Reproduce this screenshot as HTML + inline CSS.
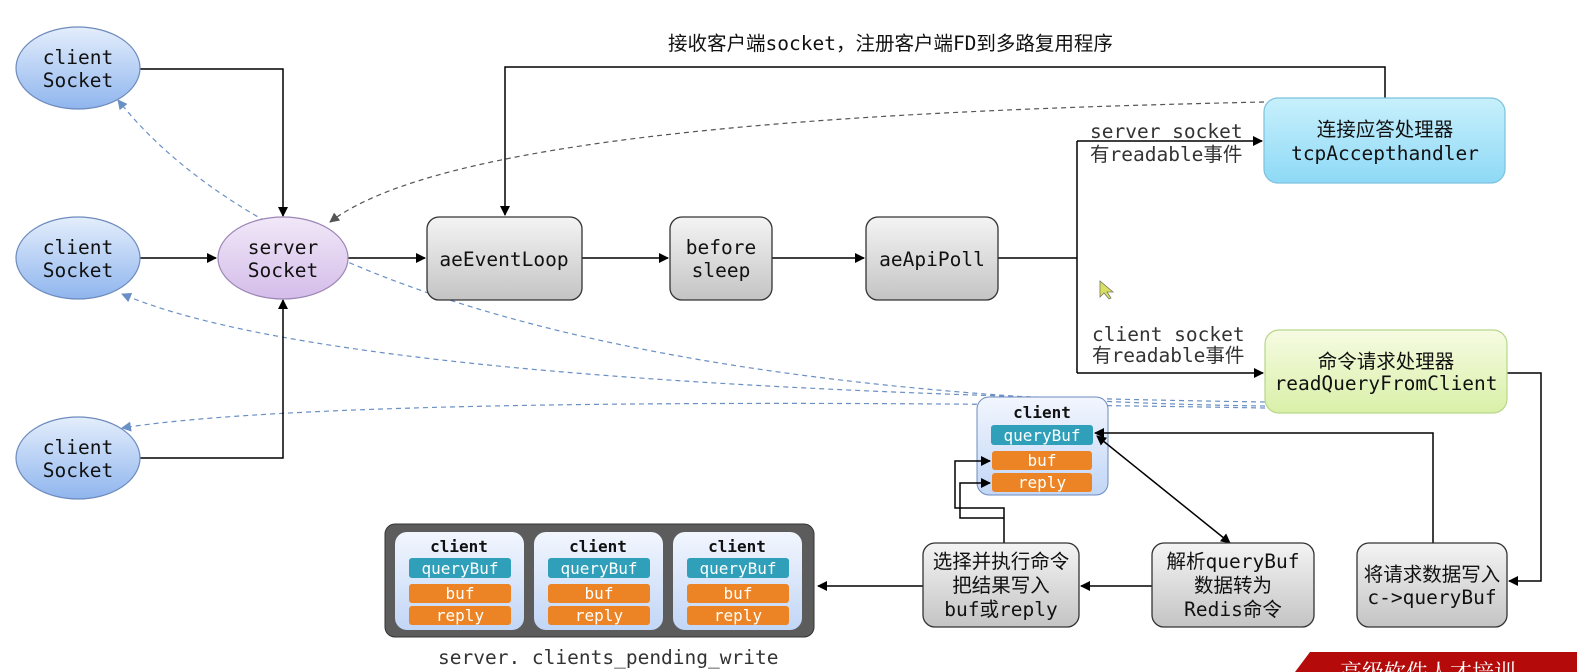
<!DOCTYPE html>
<html><head><meta charset="utf-8"><style>
html,body{margin:0;padding:0;background:#fff;width:1577px;height:672px;overflow:hidden}
text{font-family:"DejaVu Sans Mono","Liberation Mono","Noto Sans CJK SC",monospace;font-size:19.5px;fill:#111}
</style></head><body>
<svg width="1577" height="672" viewBox="0 0 1577 672" xmlns="http://www.w3.org/2000/svg">
<defs>
<marker id="a" markerWidth="10" markerHeight="10" refX="9" refY="5" orient="auto" markerUnits="userSpaceOnUse"><path d="M0,0L10,5L0,10z" fill="#000"/></marker>
<marker id="as" markerWidth="10" markerHeight="10" refX="1" refY="5" orient="auto" markerUnits="userSpaceOnUse"><path d="M10,0L0,5L10,10z" fill="#000"/></marker>
<marker id="b" markerWidth="10" markerHeight="10" refX="9" refY="5" orient="auto" markerUnits="userSpaceOnUse"><path d="M0,0L10,5L0,10z" fill="#6a8fc4"/></marker>
<marker id="d" markerWidth="10" markerHeight="10" refX="9" refY="5" orient="auto" markerUnits="userSpaceOnUse"><path d="M0,0L10,5L0,10z" fill="#555"/></marker>
<linearGradient id="gb" x1="0" y1="0" x2="0" y2="1"><stop offset="0" stop-color="#e4eefc"/><stop offset="1" stop-color="#8fb5ee"/></linearGradient>
<linearGradient id="gp" x1="0" y1="0" x2="0" y2="1"><stop offset="0" stop-color="#f1e8f8"/><stop offset="1" stop-color="#d4bde9"/></linearGradient>
<linearGradient id="gg" x1="0" y1="0" x2="0" y2="1"><stop offset="0" stop-color="#f4f4f4"/><stop offset="1" stop-color="#c4c4c4"/></linearGradient>
<linearGradient id="gc" x1="0" y1="0" x2="0" y2="1"><stop offset="0" stop-color="#c8f0fc"/><stop offset="1" stop-color="#8ed9f6"/></linearGradient>
<linearGradient id="gl" x1="0" y1="0" x2="0" y2="1"><stop offset="0" stop-color="#f6fbe2"/><stop offset="1" stop-color="#d9f0a8"/></linearGradient>
<linearGradient id="gk" x1="0" y1="0" x2="0" y2="1"><stop offset="0" stop-color="#f2f6fe"/><stop offset="1" stop-color="#c2d6f6"/></linearGradient>
</defs>

<!-- dashed connectors -->
<g fill="none" stroke-width="1.2" stroke-dasharray="5,4">
<path d="M1264,102C900,110,450,130,330,222" stroke="#555" marker-end="url(#d)"/>
<path d="M1265,406C800,400,300,330,118,100" stroke="#6a8fc4" marker-end="url(#b)"/>
<path d="M1265,402C800,395,300,370,122,294" stroke="#6a8fc4" marker-end="url(#b)"/>
<path d="M1265,408C800,400,300,400,122,428" stroke="#6a8fc4" marker-end="url(#b)"/>
</g>

<!-- client card -->
<g>
<rect x="977" y="397" width="131" height="98" rx="12" fill="url(#gk)" stroke="#6e8bbd"/>
<text x="1042" y="418" text-anchor="middle" font-weight="bold" style="font-size:16px">client</text>
<rect x="991" y="425" width="102" height="20" rx="3" fill="#2f9fba"/>
<text x="1042" y="441" text-anchor="middle" style="fill:#fff;font-size:16px">queryBuf</text>
<rect x="992" y="451" width="100" height="19" rx="3" fill="#ec8425"/>
<text x="1042" y="466" text-anchor="middle" style="fill:#fff;font-size:16px">buf</text>
<rect x="992" y="473" width="100" height="19" rx="3" fill="#ec8425"/>
<text x="1042" y="488" text-anchor="middle" style="fill:#fff;font-size:16px">reply</text>
</g>

<!-- solid connectors -->
<g fill="none" stroke="#000" stroke-width="1.5">
<path d="M140,69H283V216" marker-end="url(#a)"/>
<path d="M140,258H216" marker-end="url(#a)"/>
<path d="M140,458H283V300" marker-end="url(#a)"/>
<path d="M348,258H425" marker-end="url(#a)"/>
<path d="M582,258H668" marker-end="url(#a)"/>
<path d="M772,258H864" marker-end="url(#a)"/>
<path d="M998,258H1077"/>
<path d="M1077,141V373"/>
<path d="M1077,141H1262" marker-end="url(#a)"/>
<path d="M1077,373H1263" marker-end="url(#a)"/>
<path d="M1385,98V67H505V215" marker-end="url(#a)"/>
<path d="M1507,373H1541V581H1509" marker-end="url(#a)"/>
<path d="M1433,543V433H1095" marker-end="url(#a)"/>
<path d="M1097,436L1230,543" marker-end="url(#a)" marker-start="url(#as)"/>
<path d="M1152,586H1081" marker-end="url(#a)"/>
<path d="M923,586H818" marker-end="url(#a)"/>
<path d="M1004,543V508H955V461H990" marker-end="url(#a)"/>
<path d="M1004,518H960V483H990" marker-end="url(#a)"/>
</g>

<!-- ellipses -->
<g stroke="#6e8bbd" stroke-width="1.2">
<ellipse cx="78" cy="68" rx="62" ry="41" fill="url(#gb)"/>
<ellipse cx="78" cy="258" rx="62" ry="41" fill="url(#gb)"/>
<ellipse cx="78" cy="458" rx="62" ry="41" fill="url(#gb)"/>
<ellipse cx="283" cy="258" rx="65" ry="41" fill="url(#gp)" stroke="#9c86b6"/>
</g>
<g text-anchor="middle">
<text x="78" y="64">client</text><text x="78" y="87">Socket</text>
<text x="78" y="254">client</text><text x="78" y="277">Socket</text>
<text x="78" y="454">client</text><text x="78" y="477">Socket</text>
<text x="283" y="254">server</text><text x="283" y="277">Socket</text>
</g>

<!-- gray boxes -->
<g stroke="#333" stroke-width="1.3" fill="url(#gg)">
<rect x="427" y="217" width="155" height="83" rx="12"/>
<rect x="670" y="217" width="102" height="83" rx="12"/>
<rect x="866" y="217" width="132" height="83" rx="12"/>
<rect x="923" y="543" width="156" height="84" rx="12"/>
<rect x="1152" y="543" width="162" height="84" rx="12"/>
<rect x="1357" y="543" width="150" height="84" rx="12"/>
</g>
<g text-anchor="middle">
<text x="504" y="266">aeEventLoop</text>
<text x="721" y="254">before</text><text x="721" y="277">sleep</text>
<text x="932" y="266">aeApiPoll</text>
<text x="1001" y="568">选择并执行命令</text><text x="1001" y="592">把结果写入</text><text x="1001" y="616">buf或reply</text>
<text x="1233" y="568">解析queryBuf</text><text x="1233" y="592">数据转为</text><text x="1233" y="616">Redis命令</text>
<text x="1432" y="581">将请求数据写入</text><text x="1432" y="604">c-&gt;queryBuf</text>
</g>

<!-- handlers -->
<rect x="1264" y="98" width="241" height="85" rx="14" fill="url(#gc)" stroke="#7cc2dc" stroke-width="1.2"/>
<rect x="1265" y="330" width="242" height="83" rx="14" fill="url(#gl)" stroke="#b8d68a" stroke-width="1.2"/>
<g text-anchor="middle">
<text x="1385" y="136">连接应答处理器</text><text x="1385" y="160">tcpAccepthandler</text>
<text x="1386" y="368">命令请求处理器</text><text x="1386" y="390">readQueryFromClient</text>
</g>

<!-- labels -->
<text x="668" y="50">接收客户端socket，注册客户端FD到多路复用程序</text>
<text x="1090" y="138" style="fill:#333">server socket</text>
<text x="1090" y="161" style="fill:#333">有readable事件</text>
<text x="1092" y="341" style="fill:#333">client socket</text>
<text x="1092" y="362" style="fill:#333">有readable事件</text>
<text x="438" y="664" style="fill:#333">server. clients_pending_write</text>
<path d="M1100,281l0,16l4,-4l5,6l2,-1l-4,-6l6,0z" fill="#d8e060" stroke="#776" stroke-width="0.8"/>

<!-- container -->
<rect x="385" y="524" width="429" height="113" rx="10" fill="#5c5c5c" stroke="#333"/>
<g id="c1">
<rect x="395" y="532" width="129" height="98" rx="12" fill="url(#gk)"/>
<text x="459" y="552" text-anchor="middle" font-weight="bold" style="font-size:16px">client</text>
<rect x="409" y="558" width="102" height="20" rx="3" fill="#2f9fba"/>
<text x="460" y="574" text-anchor="middle" style="fill:#fff;font-size:16px">queryBuf</text>
<rect x="409" y="584" width="102" height="19" rx="3" fill="#ec8425"/>
<text x="460" y="599" text-anchor="middle" style="fill:#fff;font-size:16px">buf</text>
<rect x="409" y="606" width="102" height="19" rx="3" fill="#ec8425"/>
<text x="460" y="621" text-anchor="middle" style="fill:#fff;font-size:16px">reply</text>
</g>
<use href="#c1" x="139"/>
<use href="#c1" x="278"/>

<!-- banner -->
<path d="M1295,672L1310,652H1577V672z" fill="#b50a0a"/>
<text x="1340" y="680" style="fill:#fff;font-size:22px;font-family:'Noto Serif CJK SC',serif">高级软件人才培训</text>
</svg>
</body></html>
